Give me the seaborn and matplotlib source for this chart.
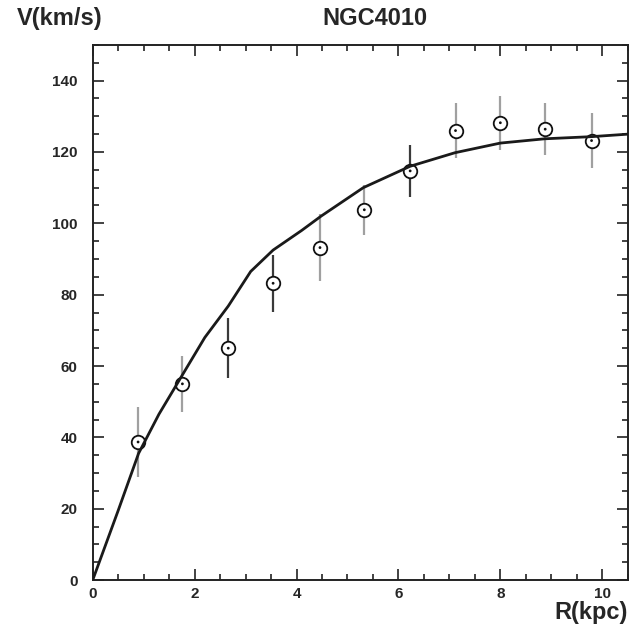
import numpy as np
import pandas as pd
import matplotlib
matplotlib.use("Agg")
import matplotlib.pyplot as plt
import seaborn as sns
from matplotlib.ticker import MultipleLocator

# data points (R in kpc, V in km/s, error)
r_obs = [0.89, 1.76, 2.66, 3.54, 4.46, 5.33, 6.23, 7.12, 8.00, 8.88, 9.79]
v_obs = [38.7, 55.0, 65.0, 83.2, 93.2, 103.8, 114.7, 126.0, 128.2, 126.4, 123.2]
v_err = [9.7, 7.8, 8.4, 8.0, 9.5, 7.0, 7.2, 7.6, 7.6, 7.2, 7.6]
err_dark = [False, False, True, True, False, False, True, False, False, False, False]

# model curve
r_fit = [0.0, 0.5, 0.9, 1.3, 1.76, 2.2, 2.66, 3.1, 3.54, 4.1, 4.48, 5.31, 6.23, 7.11, 8.0, 8.87, 9.79, 10.5]
v_fit = [0.0, 19.5, 35.5, 46.5, 57.5, 68.0, 76.8, 86.5, 92.5, 98.0, 102.0, 110.0, 116.0, 119.8, 122.5, 123.7, 124.3, 125.0]

sns.set_style("ticks")
plt.rcParams['font.family'] = ['Liberation Sans', 'DejaVu Sans']

fig = plt.figure(figsize=(6.36, 6.31), dpi=100)
ax = fig.add_axes([0.1458, 0.0808, 0.987 - 0.1458, 0.9287 - 0.0808])

df_fit = pd.DataFrame({"R": r_fit, "V": v_fit})
df_obs = pd.DataFrame({"R": r_obs, "V": v_obs, "err": v_err, "dark": err_dark})

# error bars
for _, row in df_obs.iterrows():
    col = "#3a3a3a" if row["dark"] else "#a0a0a0"
    ax.errorbar(row["R"], row["V"], yerr=row["err"], fmt="none",
                ecolor=col, elinewidth=1.6, capsize=0, zorder=2)

sns.lineplot(data=df_fit, x="R", y="V", ax=ax, color="#1a1a1a", linewidth=2.0,
             zorder=4, sort=False)

sns.scatterplot(data=df_obs, x="R", y="V", ax=ax, marker="o", s=95,
                facecolor="white", edgecolor="#111111", linewidth=1.3, zorder=3)
sns.scatterplot(data=df_obs, x="R", y="V", ax=ax, marker="o", s=4,
                color="#111111", edgecolor="none", zorder=5)

ax.set_xlim(0, 10.5)
ax.set_ylim(0, 150)
ax.xaxis.set_major_locator(MultipleLocator(2))
ax.xaxis.set_minor_locator(MultipleLocator(0.5))
ax.yaxis.set_major_locator(MultipleLocator(20))
ax.yaxis.set_minor_locator(MultipleLocator(5))
ax.tick_params(which="both", direction="in", top=True, right=True,
               color="#222222", width=1.2)
ax.tick_params(which="major", length=8, labelsize=11)
ax.tick_params(axis="y", which="major", pad=11)
ax.tick_params(axis="x", which="major", pad=5)
ax.tick_params(which="minor", length=4)
ax.set_yticks([0, 20, 40, 60, 80, 100, 120, 140])
for lab in ax.get_xticklabels() + ax.get_yticklabels():
    lab.set_fontweight("bold")
for sp in ax.spines.values():
    sp.set_visible(True)
    sp.set_linewidth(1.4)
    sp.set_color("#222222")

ax.set_xlabel("")
ax.set_ylabel("")
fig.text(0.026, 0.971, "V(km/s)", fontsize=17, fontweight="bold", ha="left", va="center")
fig.text(0.59, 0.971, "NGC4010", fontsize=17, fontweight="bold", ha="center", va="center")
fig.text(0.987, 0.030, "R(kpc)", fontsize=17, fontweight="bold", ha="right", va="center")

fig.savefig("out.png", dpi=100)
